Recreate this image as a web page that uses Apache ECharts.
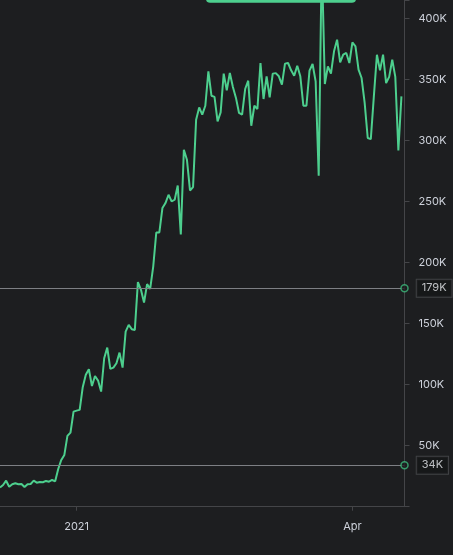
<!DOCTYPE html>
<html>
<head>
<meta charset="utf-8">
<script src="https://cdn.jsdelivr.net/npm/echarts@6/dist/echarts.min.js"></script>
<style>
html,body{margin:0;padding:0;background:#1d1e20;}
#chart{width:453px;height:555px;}
</style>
</head>
<body>
<div id="chart"></div>
<script>
// Daily values (in thousands), starting 2020-12-07
var startDate = '2020-12-07';
var values = [
  15.8, 17.8, 21.3, 16.4, 18.4, 19.2, 18.4, 18.6, 16.1, 18.4,
  18.6, 21.3, 19.7, 20.2, 20.0, 21.1, 20.5, 21.9, 20.8, 30.9,
  38.3, 42.4, 58.0, 60.7, 77.9, 78.7, 79.3, 97.9, 108.0, 112.6,
  98.9, 107.1, 103.3, 94.3, 121.6, 130.3, 112.9, 113.9, 117.5, 126.2,
  113.9, 143.4, 148.9, 145.4, 144.8, 183.9, 177.6, 167.2, 182.3, 178.4,
  196.7, 224.6, 224.6, 244.6, 248.7, 255.5, 250.0, 251.4, 263.1, 222.9,
  292.4, 284.2, 259.0, 261.8, 317.0, 327.0, 321.1, 328.4, 356.6, 336.6,
  335.6, 315.6, 323.0, 354.7, 341.0, 355.2, 343.8, 334.8, 322.5, 321.1,
  342.1, 348.9, 312.0, 328.4, 325.7, 363.4, 333.9, 352.5, 335.2, 354.7,
  355.1, 352.5, 345.7, 362.9, 363.4, 357.4, 353.0, 361.2, 352.5, 328.4,
  328.4, 357.1, 362.6, 348.4, 271.1, 450.0, 346.2, 360.7, 354.7, 373.0,
  382.5, 363.9, 370.2, 371.6, 363.4, 380.3, 377.0, 357.9, 351.1, 330.7,
  302.0, 301.1, 336.1, 370.2, 357.4, 370.2, 347.0, 352.0, 366.2, 352.0,
  291.8, 336.1
];
var extraDays = 1; // axis extends one day past the last value
var xTickDates = ['2021-01-01', '2021-04-01'];
var xTickLabels = ['2021', 'Apr'];
var yTickInterval = 50000;
var markValues = [179000, 34000];
var markLabels = ['179K', '34K'];

// build category list (dates)
var categories = [];
(function () {
  var p = startDate.split('-');
  var d = new Date(Date.UTC(+p[0], +p[1] - 1, +p[2]));
  for (var i = 0; i < values.length + extraDays; i++) {
    categories.push(d.toISOString().slice(0, 10));
    d = new Date(d.getTime() + 86400000);
  }
})();
var seriesData = values.map(function (v) { return v * 1000; });
var lastCat = categories[categories.length - 1];

function isTick(idx, val) { return xTickDates.indexOf(val) >= 0; }

var GREEN = '#4dcf8e';
var chart = echarts.init(document.getElementById('chart'), null, {renderer: 'canvas'});
chart.setOption({
  backgroundColor: '#1d1e20',
  animation: false,
  textStyle: {fontFamily: 'Inter'},
  grid: {left: -1, right: 48.5, top: 0, bottom: 48.3, containLabel: false},
  xAxis: {
    type: 'category',
    data: categories,
    boundaryGap: false,
    axisLine: {show: true, lineStyle: {color: '#444548', width: 1}},
    axisTick: {show: true, interval: isTick, length: 4, lineStyle: {color: '#444548'}},
    axisLabel: {
      interval: isTick, color: '#cdd1da', fontSize: 11, fontFamily: 'Inter', margin: 14,
      formatter: function (v) { var k = xTickDates.indexOf(v); return k >= 0 ? xTickLabels[k] : ''; }
    },
    splitLine: {show: false}
  },
  yAxis: {
    type: 'value',
    position: 'right',
    min: 0,
    max: 415000,
    interval: yTickInterval,
    axisLine: {show: true, lineStyle: {color: '#444548', width: 1}},
    axisTick: {show: true, length: 5, lineStyle: {color: '#444548'}},
    axisLabel: {
      color: '#cdd1da', fontSize: 11, fontFamily: 'Inter', margin: 14,
      formatter: function (v) { return (v > 0 && v % yTickInterval === 0) ? (v / 1000) + 'K' : ''; }
    },
    splitLine: {show: false}
  },
  series: [
    {
      type: 'line',
      data: seriesData,
      symbol: 'none',
      clip: true,
      lineStyle: {color: GREEN, width: 2},
      itemStyle: {color: GREEN},
      markLine: {
        silent: true,
        symbol: 'none',
        label: {show: false},
        lineStyle: {color: '#7d7f84', width: 1, type: 'solid'},
        data: markValues.map(function (v) { return {yAxis: v}; })
      },
      z: 3
    },
    {
      type: 'scatter',
      clip: false,
      symbol: 'circle',
      symbolSize: 7,
      itemStyle: {color: '#1d1e20', borderColor: '#3dba7c', borderWidth: 1.5},
      label: {
        show: true,
        position: 'right',
        distance: 8,
        color: '#e6e8ec',
        fontSize: 11,
        fontFamily: 'Inter',
        backgroundColor: '#151618',
        borderColor: '#4a4b4f',
        borderWidth: 1,
        padding: [3, 5, 3, 5],
        formatter: function (p) { return markLabels[p.dataIndex]; }
      },
      data: markValues.map(function (v) { return [lastCat, v]; }),
      z: 5
    }
  ],
  graphic: [
    {
      type: 'rect',
      shape: {x: 206, y: -20, width: 150, height: 22.7, r: 4},
      style: {fill: GREEN},
      z: 10
    }
  ]
});
</script>
</body>
</html>
